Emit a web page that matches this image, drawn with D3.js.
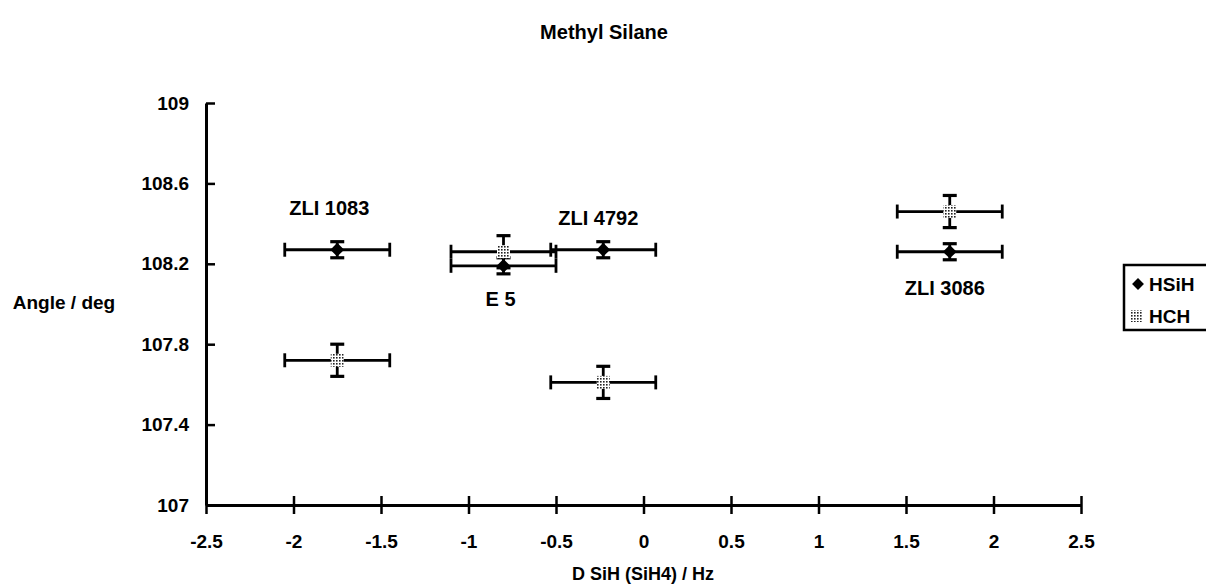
<!DOCTYPE html>
<html>
<head>
<meta charset="utf-8">
<script src="https://cdn.jsdelivr.net/npm/d3@7"></script>
<style>
  html, body { margin: 0; padding: 0; background: #fff; }
  svg { display: block; font-family: "Liberation Sans", Arial, sans-serif; font-weight: bold; }
</style>
</head>
<body>
<svg id="chart" width="1206" height="587"></svg>
<script>
// Solvent labels and measured couplings / angles
const solvents = ["ZLI 1083", "E 5", "ZLI 4792", "ZLI 3086"];
const dSiH = [-1.75, -0.8, -0.23, 1.75];
const dSiHErr = [0.3, 0.3, 0.3, 0.3];
const hsihAngle = [108.27, 108.19, 108.27, 108.26];
const hsihErr = [0.04, 0.04, 0.04, 0.04];
const hchAngle = [107.72, 108.26, 107.61, 108.46];
const hchErr = [0.08, 0.08, 0.08, 0.08];
const xTicks = [-2.5, -2, -1.5, -1, -0.5, 0, 0.5, 1, 1.5, 2, 2.5];
const yTicks = [107, 107.4, 107.8, 108.2, 108.6, 109];
const seriesNames = ["HSiH", "HCH"];

const svg = d3.select("#chart");
const x = d3.scaleLinear().domain([-2.5, 2.5]).range([206, 1081]);
const y = d3.scaleLinear().domain([107, 109]).range([505, 103]);

// checkered fill for the HCH markers
const defs = svg.append("defs");
const pat = defs.append("pattern").attr("id", "checker")
  .attr("width", 3).attr("height", 3).attr("patternUnits", "userSpaceOnUse");
pat.append("rect").attr("width", 3).attr("height", 3).attr("fill", "#fff");
pat.append("rect").attr("width", 1.6).attr("height", 1.6).attr("fill", "#222");

// title
svg.append("text").attr("x", 604).attr("y", 39).attr("text-anchor", "middle")
  .attr("font-size", 20).text("Methyl Silane");

// axes
const fmt = d => String(d);
const xAxis = svg.append("g").attr("transform", `translate(0,${y(107)})`)
  .call(d3.axisBottom(x).tickValues(xTicks).tickSizeInner(9).tickSizeOuter(0).tickPadding(21)
    .tickFormat(fmt));
xAxis.selectAll(".tick line").attr("y1", -9).attr("stroke-width", 2.5);
const yAxis = svg.append("g").attr("transform", `translate(${x(-2.5)},0)`)
  .call(d3.axisLeft(y).tickValues(yTicks).tickSizeInner(9).tickSizeOuter(0).tickPadding(8)
    .tickFormat(fmt));
yAxis.selectAll(".tick line").attr("x2", 9).attr("stroke-width", 2.5);
[xAxis, yAxis].forEach(a => {
  a.select(".domain").attr("stroke-width", 3);
  a.selectAll("text").attr("font-size", 19).attr("font-weight", "bold")
    .attr("font-family", "Liberation Sans, Arial, sans-serif").attr("fill", "#000");
});
xAxis.selectAll("text").attr("dy", "0.71em");

// axis titles
svg.append("text").attr("x", 64).attr("y", 309).attr("text-anchor", "middle")
  .attr("font-size", 19).text("Angle / deg");
svg.append("text").attr("x", 643).attr("y", 580).attr("text-anchor", "middle")
  .attr("font-size", 18).text("D SiH (SiH4) / Hz");

// error bars
const plot = svg.append("g");
function errorBars(vals, yErr) {
  dSiH.forEach((d, i) => {
    const cx = x(d), cy = y(vals[i]);
    const x0 = x(d - dSiHErr[i]), x1 = x(d + dSiHErr[i]);
    const y0 = y(vals[i] - yErr[i]), y1 = y(vals[i] + yErr[i]);
    const g = plot.append("g").attr("stroke", "#000").attr("stroke-width", 2.8);
    g.append("line").attr("x1", x0).attr("x2", x1).attr("y1", cy).attr("y2", cy);
    g.append("line").attr("x1", x0).attr("x2", x0).attr("y1", cy - 7).attr("y2", cy + 7);
    g.append("line").attr("x1", x1).attr("x2", x1).attr("y1", cy - 7).attr("y2", cy + 7);
    g.append("line").attr("x1", cx).attr("x2", cx).attr("y1", y0).attr("y2", y1);
    g.append("line").attr("x1", cx - 7).attr("x2", cx + 7).attr("y1", y0).attr("y2", y0).attr("stroke-width", 3.2);
    g.append("line").attr("x1", cx - 7).attr("x2", cx + 7).attr("y1", y1).attr("y2", y1).attr("stroke-width", 3.2);
  });
}
errorBars(hchAngle, hchErr);
errorBars(hsihAngle, hsihErr);

// markers
const diamond = d3.symbol().type(d3.symbolDiamond2).size(120);
plot.selectAll(".hch").data(dSiH).join("rect").attr("class", "hch")
  .attr("x", d => x(d) - 6.5).attr("y", (d, i) => y(hchAngle[i]) - 6.5)
  .attr("width", 13).attr("height", 13).attr("fill", "url(#checker)");
plot.selectAll(".hsih").data(dSiH).join("path").attr("class", "hsih")
  .attr("transform", (d, i) => `translate(${x(d)},${y(hsihAngle[i])})`)
  .attr("d", diamond).attr("fill", "#000");

// point labels, offset from each HSiH point
const labelPos = [
  { dx: -8, dy: -35 },
  { dx: -3, dy: 40 },
  { dx: -5, dy: -25 },
  { dx: -5, dy: 43 }
];
solvents.forEach((s, i) => {
  svg.append("text").attr("x", x(dSiH[i]) + labelPos[i].dx)
    .attr("y", y(hsihAngle[i]) + labelPos[i].dy)
    .attr("text-anchor", "middle").attr("font-size", 20).text(s);
});

// legend (runs off the right edge)
const leg = svg.append("g");
leg.append("path").attr("d", "M1210,265 H1124 V330 H1210").attr("fill", "none")
  .attr("stroke", "#000").attr("stroke-width", 2.5);
leg.append("path").attr("transform", "translate(1138,284)")
  .attr("d", d3.symbol().type(d3.symbolDiamond2).size(90)).attr("fill", "#000");
leg.append("rect").attr("x", 1131).attr("y", 310).attr("width", 12).attr("height", 12)
  .attr("fill", "url(#checker)");
leg.append("text").attr("x", 1149).attr("y", 291).attr("font-size", 19).text(seriesNames[0]);
leg.append("text").attr("x", 1149).attr("y", 323).attr("font-size", 19).text(seriesNames[1]);
</script>
</body>
</html>
